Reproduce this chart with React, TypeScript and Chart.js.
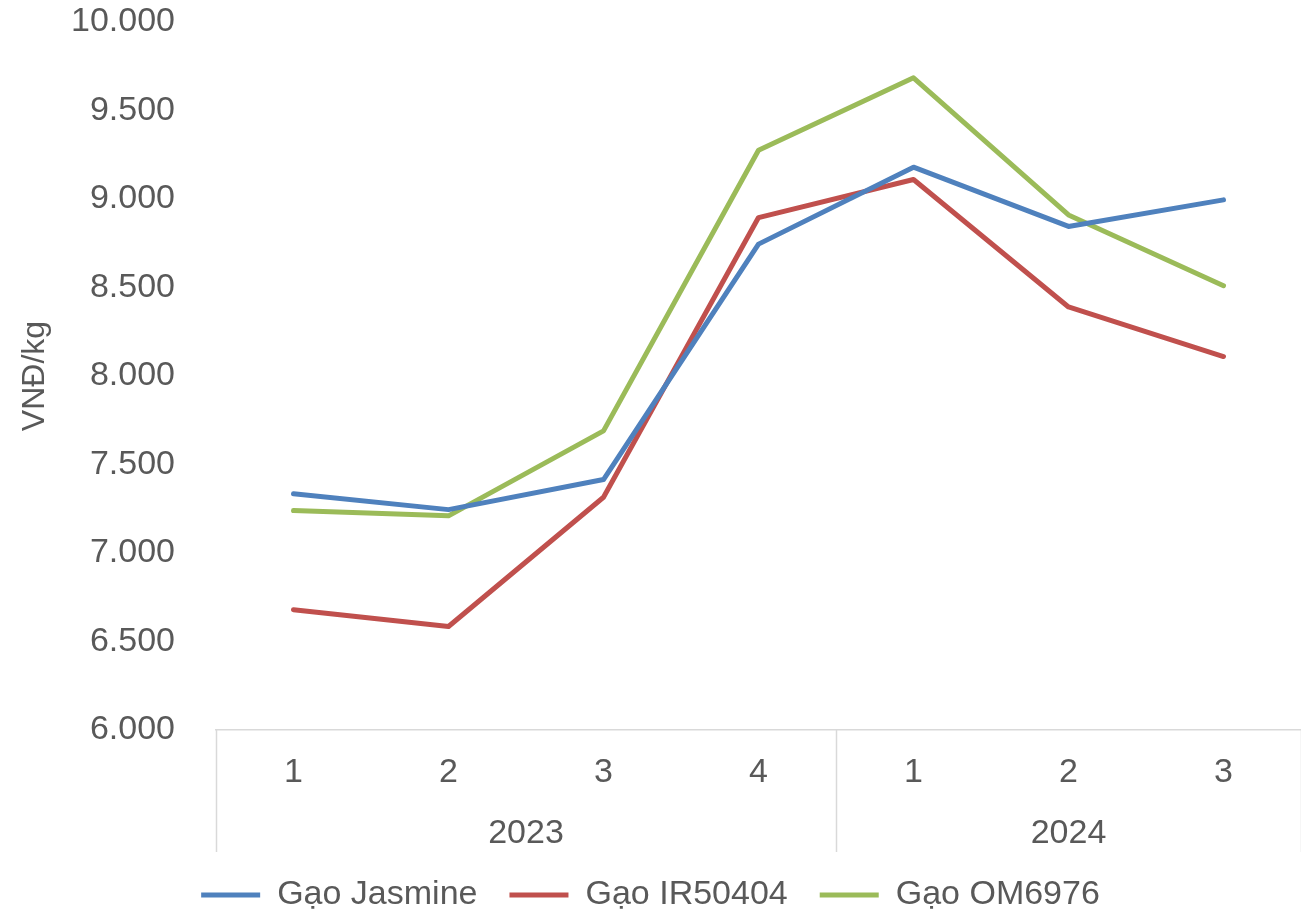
import React, { useEffect, useRef } from "react";
import { Chart, registerables } from "chart.js";

Chart.register(...registerables);

const quarters = ["1", "2", "3", "4", "1", "2", "3"];
const years = ["2023", "2024"];
const yearSpans = [4, 3];

const jasmine = [7335, 7245, 7415, 8745, 9180, 8845, 8995];
const ir50404 = [6680, 6585, 7315, 8895, 9110, 8390, 8110];
const om6976 = [7240, 7210, 7690, 9275, 9685, 8910, 8510];

const seriesNames = ["Gạo Jasmine", "Gạo IR50404", "Gạo OM6976"];
const seriesColors = ["#4F81BD", "#C0504D", "#9BBB59"];

const TEXT = "#595959";
const AXIS = "#D9D9D9";
const FONT = "'Liberation Sans', Arial, sans-serif";

const fmt = (v: number) => {
  const s = Math.round(v).toString();
  return s.replace(/\B(?=(\d{3})+(?!\d))/g, ".");
};

const groupPlugin = {
  id: "groupAxis",
  afterDraw(chart: any) {
    const x = chart.scales.x;
    const ctx = chart.ctx;
    const top = chart.chartArea.bottom;
    const bottom = top + 122;
    ctx.save();
    ctx.strokeStyle = AXIS;
    ctx.lineWidth = 1.5;
    let start = 0;
    const bounds = [-0.5];
    yearSpans.forEach((n) => {
      start += n;
      bounds.push(start - 0.5);
    });
    bounds.forEach((b) => {
      const px = Math.round(x.getPixelForValue(b)) + 0.5;
      ctx.beginPath();
      ctx.moveTo(px, top);
      ctx.lineTo(px, bottom);
      ctx.stroke();
    });
    ctx.fillStyle = TEXT;
    ctx.font = `34px ${FONT}`;
    ctx.textAlign = "center";
    ctx.textBaseline = "middle";
    let s = 0;
    years.forEach((y, i) => {
      const c = x.getPixelForValue(s + (yearSpans[i] - 1) / 2);
      ctx.fillText(y, c, top + 104);
      s += yearSpans[i];
    });
    ctx.restore();
  },
};

export default function App() {
  const ref = useRef<HTMLCanvasElement>(null);

  useEffect(() => {
    if (!ref.current) return;
    const data = [jasmine, ir50404, om6976];
    const chart = new Chart(ref.current, {
      type: "line",
      data: {
        labels: quarters,
        datasets: data.map((d, i) => ({
          label: seriesNames[i],
          data: d,
          borderColor: seriesColors[i],
          backgroundColor: seriesColors[i],
          borderWidth: 5,
          pointRadius: 0,
          pointHoverRadius: 0,
          tension: 0,
          borderJoinStyle: "round" as const,
          borderCapStyle: "round" as const,
          fill: false,
        })),
      },
      options: {
        animation: false,
        responsive: false,
        maintainAspectRatio: false,
        layout: { padding: { top: 22, right: 0, left: 0, bottom: -11 } },
        plugins: {
          tooltip: { enabled: false },
          legend: {
            position: "bottom",
            labels: {
              color: TEXT,
              font: { size: 34, family: FONT },
              boxWidth: 59,
              boxHeight: 5,
              padding: 32,
              generateLabels: (c: any) => {
                const items = Chart.defaults.plugins.legend.labels.generateLabels(c);
                return items.map((it: any, i: number) => ({
                  ...it,
                  fillStyle: seriesColors[i],
                  strokeStyle: seriesColors[i],
                  lineWidth: 0,
                }));
              },
            },
          },
        },
        scales: {
          x: {
            type: "category",
            offset: true,
            grid: { display: false, drawTicks: false },
            border: { display: true, color: AXIS, width: 1.5 },
            ticks: {
              color: TEXT,
              font: { size: 34, family: FONT },
              padding: 22,
              maxRotation: 0,
              autoSkip: false,
            },
            afterFit: (s: any) => {
              s.height = 116;
            },
          },
          y: {
            min: 6000,
            max: 10000,
            grid: { display: false, drawTicks: false },
            border: { display: false },
            ticks: {
              stepSize: 500,
              color: TEXT,
              font: { size: 34, family: FONT },
              padding: 41,
              callback: (v: any) => fmt(Number(v)),
            },
            title: {
              display: true,
              text: "VNĐ/kg",
              color: TEXT,
              font: { size: 32, family: FONT },
              padding: { top: 16, bottom: 0 },
            },
            afterFit: (s: any) => {
              s.width = 216;
              s.paddingTop = 0;
              s.paddingBottom = 0;
            },
          },
        },
      },
      plugins: [groupPlugin],
    });
    return () => chart.destroy();
  }, []);

  return (
    <div style={{ position: "fixed", left: 0, top: 0, width: 1301, height: 911, background: "#fff" }}>
      <canvas ref={ref} width={1301} height={911} style={{ width: 1301, height: 911, display: "block" }} />
    </div>
  );
}
